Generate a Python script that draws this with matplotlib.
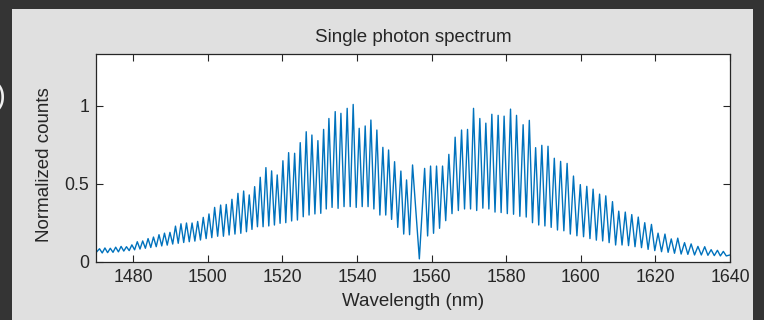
import numpy as np
import matplotlib
matplotlib.use("Agg")
import matplotlib.pyplot as plt
from matplotlib.patches import Rectangle

plt.rcParams['font.family'] = ['Liberation Sans', 'DejaVu Sans']

# fringe maxima (nm, normalized counts)
peak_nm = [1470.94, 1472.39, 1473.83, 1475.28, 1476.73, 1478.17, 1479.62, 1481.07, 1482.52, 1483.96,
           1485.41, 1486.89, 1488.36, 1489.83, 1491.31, 1492.78, 1494.26, 1495.76, 1497.26, 1498.76,
           1500.29, 1501.81, 1503.42, 1504.92, 1506.45, 1508.06, 1509.59, 1511.09, 1512.54, 1514.04,
           1515.56, 1517.09, 1518.59, 1520.12, 1521.65, 1523.26, 1524.76, 1526.37, 1527.89, 1529.50,
           1531.03, 1532.45, 1534.14, 1535.67, 1537.35, 1538.96, 1540.57, 1542.18, 1543.71, 1545.31,
           1546.92, 1548.45, 1550.06, 1551.75, 1553.27, 1554.88,
           1558.12, 1559.71, 1561.31, 1562.92, 1564.61, 1566.30, 1568.02, 1569.62, 1571.23, 1572.92,
           1574.53, 1576.14, 1577.83, 1579.43, 1581.15, 1582.76, 1584.53, 1586.19, 1587.88, 1589.54,
           1591.20, 1592.89, 1594.58, 1596.32, 1598.03, 1599.86, 1601.60, 1603.29, 1605.03, 1606.69,
           1608.49, 1610.17, 1611.92, 1613.66, 1615.40, 1617.14, 1618.94, 1620.71, 1622.56, 1624.25,
           1625.99, 1627.81, 1629.58, 1631.40, 1633.22, 1634.94, 1636.63, 1638.21]
peak_val = [0.085, 0.090, 0.088, 0.095, 0.100, 0.098, 0.110, 0.130, 0.135, 0.150,
            0.160, 0.175, 0.185, 0.190, 0.230, 0.245, 0.250, 0.250, 0.260, 0.286,
            0.308, 0.350, 0.365, 0.369, 0.402, 0.440, 0.455, 0.430, 0.483, 0.543,
            0.605, 0.584, 0.558, 0.649, 0.701, 0.697, 0.765, 0.835, 0.814, 0.778,
            0.850, 0.920, 0.964, 0.953, 0.985, 1.010, 0.857, 0.872, 0.910, 0.846,
            0.735, 0.718, 0.643, 0.583, 0.526, 0.622,
            0.600, 0.615, 0.615, 0.615, 0.690, 0.800, 0.846, 0.850, 0.985, 0.920,
            0.890, 0.947, 0.940, 0.935, 0.980, 0.940, 0.880, 0.908, 0.733, 0.748,
            0.742, 0.665, 0.645, 0.632, 0.551, 0.496, 0.485, 0.467, 0.435, 0.424,
            0.387, 0.326, 0.320, 0.304, 0.288, 0.252, 0.241, 0.185, 0.179, 0.148,
            0.153, 0.124, 0.116, 0.100, 0.098, 0.079, 0.075, 0.068]

# fringe minima, including both ends and the dip near 1557 nm
trough_nm = [1470.00, 1471.67, 1473.11, 1474.56, 1476.01, 1477.45, 1478.90, 1480.35, 1481.80, 1483.24,
             1484.69, 1486.15, 1487.63, 1489.10, 1490.57, 1492.05, 1493.52, 1495.01, 1496.51, 1498.01,
             1499.53, 1501.05, 1502.62, 1504.17, 1505.69, 1507.26, 1508.83, 1510.34, 1511.82, 1513.29,
             1514.80, 1516.33, 1517.84, 1519.36, 1520.89, 1522.46, 1524.01, 1525.57, 1527.13, 1528.70,
             1530.27, 1531.74, 1533.30, 1534.91, 1536.51, 1538.16, 1539.77, 1541.38, 1542.95, 1544.51,
             1546.12, 1547.69, 1549.26, 1550.91, 1552.51, 1554.08, 1556.70,
             1558.92, 1560.51, 1562.12, 1563.77, 1565.46, 1567.16, 1568.82, 1570.43, 1572.08, 1573.73,
             1575.34, 1576.99, 1578.63, 1580.29, 1581.96, 1583.65, 1585.36, 1587.04, 1588.71, 1590.37,
             1592.05, 1593.74, 1595.45, 1597.18, 1598.95, 1600.73, 1602.45, 1604.16, 1605.86, 1607.59,
             1609.33, 1611.05, 1612.79, 1614.53, 1616.27, 1618.04, 1619.83, 1621.64, 1623.41, 1625.12,
             1626.90, 1628.70, 1630.49, 1632.31, 1634.08, 1635.79, 1637.42, 1639.00, 1640.00]
trough_val = [0.060, 0.058, 0.060, 0.062, 0.065, 0.070, 0.073, 0.078, 0.083, 0.088,
              0.093, 0.098, 0.103, 0.108, 0.115, 0.120, 0.125, 0.130, 0.134, 0.141,
              0.150, 0.156, 0.165, 0.165, 0.173, 0.179, 0.184, 0.194, 0.209, 0.226,
              0.226, 0.231, 0.237, 0.248, 0.252, 0.263, 0.269, 0.290, 0.301, 0.308,
              0.312, 0.340, 0.350, 0.344, 0.355, 0.355, 0.350, 0.355, 0.355, 0.340,
              0.301, 0.301, 0.273, 0.222, 0.179, 0.175, 0.020,
              0.167, 0.184, 0.216, 0.265, 0.310, 0.330, 0.340, 0.340, 0.330, 0.345,
              0.340, 0.320, 0.317, 0.310, 0.306, 0.293, 0.288, 0.252, 0.237, 0.231,
              0.222, 0.205, 0.200, 0.179, 0.168, 0.162, 0.150, 0.140, 0.135, 0.124,
              0.109, 0.109, 0.105, 0.098, 0.092, 0.081, 0.073, 0.066, 0.062, 0.056,
              0.051, 0.049, 0.045, 0.045, 0.043, 0.041, 0.039, 0.039, 0.045]

xticks = [1480, 1500, 1520, 1540, 1560, 1580, 1600, 1620, 1640]
yticks = [0, 0.5, 1]
ytick_labels = ["0", "0.5", "1"]

# merge maxima and minima into one trace
wl = np.array(peak_nm + trough_nm)
cts = np.array(peak_val + trough_val)
order = np.argsort(wl)
wl, cts = wl[order], cts[order]

W, H = 764, 320
fig = plt.figure(figsize=(W / 100, H / 100), dpi=100, facecolor='#343434')
# light gray slide panel, behind the axes
fig.patches.append(Rectangle((12 / W, 0), 741 / W, 1 - 9 / H, transform=fig.transFigure,
                             facecolor='#e0e0e0', edgecolor='none', zorder=-10))
fig.text(6 / W, 1 - 97 / H, ")", color='#f0f0f0', fontsize=21, ha='right', va='center')

ax = fig.add_axes([96 / W, 1 - 262 / H, 634 / W, 208 / H])
ax.set_zorder(5)
ax.plot(wl, cts, color='#0072BD', lw=1.0)
ax.set_xlim(1470, 1640)
ax.set_ylim(0, 208 / 156)
ax.set_xticks(xticks)
ax.set_yticks(yticks)
ax.set_yticklabels(ytick_labels)
ax.tick_params(direction='in', top=True, right=True, length=5, width=0.8,
               labelsize=12.8, colors='#262626', pad=5)
for s in ax.spines.values():
    s.set_color('#262626')
    s.set_linewidth(0.9)

fig.text((96 + 730) / 2 / W, 1 - 38 / H, "Single photon spectrum", fontsize=13.5,
         color='#262626', ha='center', va='center')
fig.text((96 + 730) / 2 / W, 1 - 302 / H, "Wavelength (nm)", fontsize=13.5,
         color='#262626', ha='center', va='center')
fig.text(45 / W, 1 - 165 / H, "Normalized counts", fontsize=13.5, rotation=90,
         color='#262626', ha='center', va='center')

plt.savefig("out.png", dpi=100, facecolor=fig.get_facecolor())
